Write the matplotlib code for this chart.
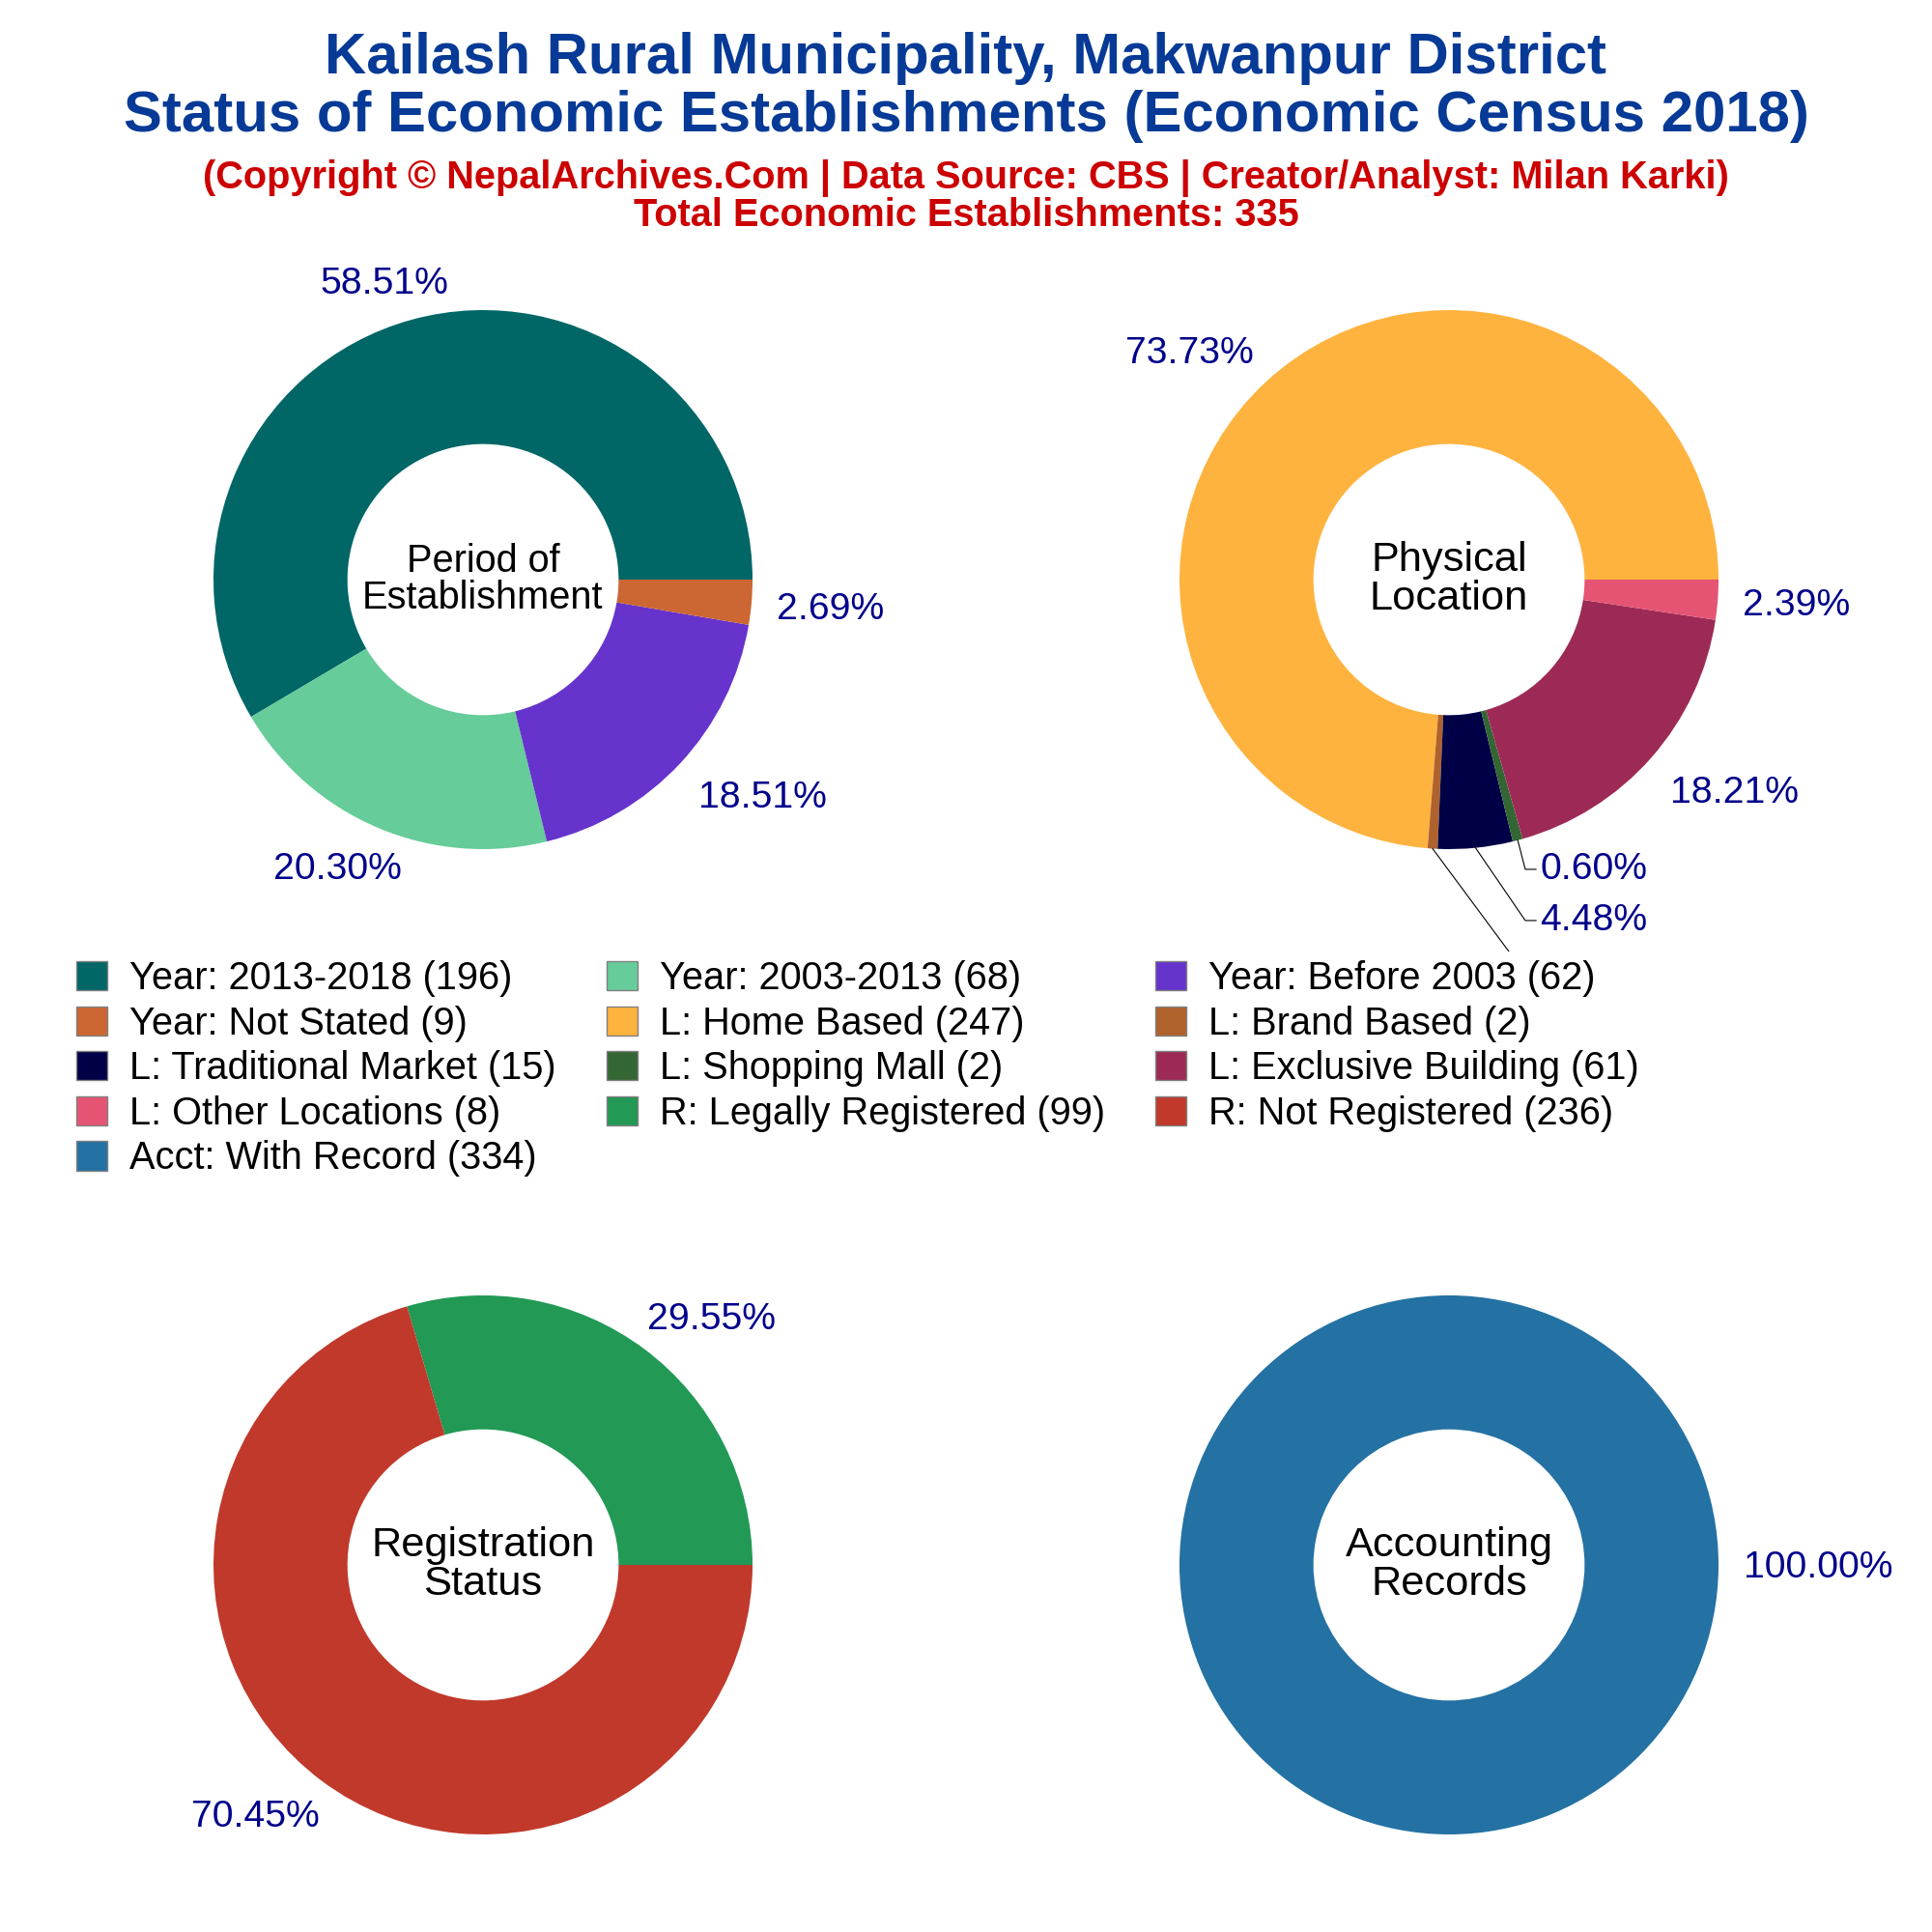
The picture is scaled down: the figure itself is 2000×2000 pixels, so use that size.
import matplotlib
matplotlib.use('Agg')
import matplotlib.pyplot as plt
from matplotlib.patches import Patch, Rectangle
import numpy as np

plt.rcParams['font.family'] = ['Liberation Sans', 'DejaVu Sans']

title_1 = 'Kailash Rural Municipality, Makwanpur District'
title_2 = 'Status of Economic Establishments (Economic Census 2018)'
subtitle_1 = '(Copyright © NepalArchives.Com | Data Source: CBS | Creator/Analyst: Milan Karki)'
subtitle_2 = 'Total Economic Establishments: 335'

period_names = ['Year: 2013-2018', 'Year: 2003-2013', 'Year: Before 2003', 'Year: Not Stated']
period_values = [196, 68, 62, 9]
period_colors = ['#006666', '#66CC99', '#6633CC', '#CC6633']

location_names = ['L: Home Based', 'L: Brand Based', 'L: Traditional Market', 'L: Shopping Mall',
                  'L: Exclusive Building', 'L: Other Locations']
location_values = [247, 2, 15, 2, 61, 8]
location_colors = ['#FFB33F', '#B0622D', '#000047', '#336633', '#9D2A56', '#E65473']

registration_names = ['R: Legally Registered', 'R: Not Registered']
registration_values = [99, 236]
registration_colors = ['#229955', '#C0392B']

account_names = ['Acct: With Record']
account_values = [334]
account_colors = ['#2471A3']

# label centres in pie radius units, picked by eye
period_label_xy = [(-.365, 1.095), (-.539, -1.074), (1.037, -.809), (1.288, -.110)]
location_label_xy = [(-.963, .839), (.538, -1.462), (.538, -1.265), (.538, -1.075), (1.059, -.791), (1.288, -.097)]
registration_label_xy = [(.849, .912), (-.845, -.937)]
account_label_xy = [(1.37, -.01)]

R_px = 279
label_color = '#00008B'


def donut(cx, cy, values, colors, label_xy, center_text, center_size, leaders=()):
    ax = fig.add_axes([(cx - R_px) / 2000, 1 - (cy + R_px) / 2000, 2 * R_px / 2000, 2 * R_px / 2000])
    wedges, _ = ax.pie(values, colors=colors, startangle=0, counterclock=True, radius=1,
                       wedgeprops=dict(width=0.497, linewidth=0))
    ax.set_xlim(-1, 1)
    ax.set_ylim(-1, 1)
    total = sum(values)
    for i, w in enumerate(wedges):
        txt = '{:.2f}%'.format(100 * values[i] / total)
        xt, yt = label_xy[i]
        ax.text(xt, yt, txt, color=label_color, fontsize=14.1, ha='center', va='center')
        if i in leaders:
            mid = np.deg2rad((w.theta1 + w.theta2) / 2)
            # elbow: slanted from the wedge, short flat bit into the text
            ax.plot([np.cos(mid), xt - 0.255, xt - 0.215], [np.sin(mid), yt, yt], color='k', lw=0.4, clip_on=False)
    ax.text(0, 0, center_text, fontsize=center_size, ha='center', va='center', linespacing=1.02)
    return wedges


fig = plt.figure(figsize=(10, 10), dpi=200, facecolor='w')

donut(500, 600, period_values, period_colors, period_label_xy, 'Period of\nEstablishment', 14.3)
donut(1500, 600, location_values, location_colors, location_label_xy, 'Physical\nLocation', 15.6, leaders=(1, 2, 3))
donut(500, 1620, registration_values, registration_colors, registration_label_xy, 'Registration\nStatus', 15.6)
donut(1500, 1620, account_values, account_colors, account_label_xy, 'Accounting\nRecords', 15.6)

fig.text(0.5, 1 - 61 / 2000, title_1, color='#063A96', fontsize=21.55, fontweight='bold', ha='center', va='center')
fig.text(0.5, 1 - 120 / 2000, title_2, color='#063A96', fontsize=21.55, fontweight='bold', ha='center', va='center')
fig.text(0.5, 1 - 184 / 2000, subtitle_1, color='#CC0000', fontsize=14.3, fontweight='bold', ha='center', va='center')
fig.text(0.5, 1 - 223 / 2000, subtitle_2, color='#CC0000', fontsize=14.3, fontweight='bold', ha='center', va='center')

# legend entries run across rows in the original, matplotlib fills columns
names = period_names + location_names + registration_names + account_names
values = period_values + location_values + registration_values + account_values
colors = period_colors + location_colors + registration_colors + account_colors
handles = [Patch(facecolor=c, edgecolor='gray', linewidth=0.5) for c in colors]
labels = ['{} ({})'.format(n, v) for n, v in zip(names, values)]
order = list(range(0, 13, 3)) + list(range(1, 13, 3)) + list(range(2, 13, 3))

# white legend background hides the last small label, as in the original
fig.add_artist(Rectangle((70 / 2000, 1 - 1235 / 2000), 1633.5 / 2000, 250 / 2000, transform=fig.transFigure,
                         facecolor='w', edgecolor='none', zorder=4))
fig.legend([handles[i] for i in order], [labels[i] for i in order], ncol=3, fontsize=14.3,
           loc='upper left', bbox_to_anchor=(79 / 2000, 1 - 994 / 2000), borderaxespad=0,
           borderpad=0, handlelength=0.81, handleheight=0.8, handletextpad=0.58,
           columnspacing=1.31, labelspacing=0.215, frameon=False)

plt.savefig('out.png', dpi=200, facecolor='w')
